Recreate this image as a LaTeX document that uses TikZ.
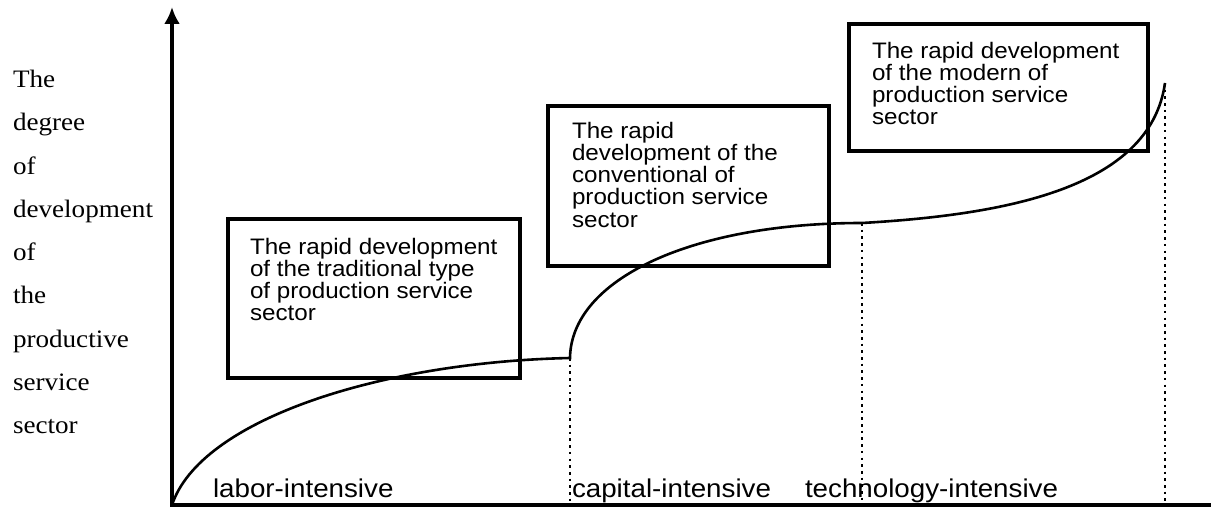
\documentclass[tikz,border=0pt]{standalone}
\usepackage{fontspec}
\setmainfont{Liberation Serif}
\newfontfamily\axisfont[FakeStretch=1.08]{Liberation Serif}
\newfontfamily\boxfont[FakeStretch=1.08]{Liberation Sans}
\usetikzlibrary{arrows.meta, positioning}

\begin{document}
\begin{tikzpicture}[x=1pt, y=-1pt,
    every node/.style={inner sep=0pt, outer sep=0pt},
    axis/.style={line width=3.4pt},
    curve/.style={line width=2.6pt},
    guide/.style={line width=2.8pt, dash pattern=on 2.6pt off 4.1pt},
    frame/.style={draw, line width=3.2pt, anchor=north west},
    boxtext/.style={anchor=north west, align=left, font=\boxfont\fontsize{22.4}{22.2}\selectfont},
    stage/.style={anchor=base west, font=\boxfont\fontsize{25.7}{26}\selectfont}
  ]
  \useasboundingbox (0,0) rectangle (1211,508);

  % axes
  \coordinate (O) at (172,505);
  \coordinate (xend) at (1211,505);
  \coordinate (ytop) at (172,7);
  \draw[axis] (O) -- (xend);
  \draw[axis, -{Latex[length=17pt, width=16pt]}] ([yshift=-1.7pt]O) -- (ytop);

  % y label
  \node[anchor=north west, align=left, font=\axisfont\fontsize{25.1}{43.3}\selectfont] (ylab) at (13,70)
    {The\\degree\\of\\development\\of\\the\\productive\\service\\sector};

  % boxes
  \node[frame, minimum width=292pt, minimum height=159pt] (trad) at (228,219) {};
  \node[frame, minimum width=281pt, minimum height=160pt] (conv) at (548,106) {};
  \node[frame, minimum width=299pt, minimum height=127pt] (mod) at (849,24) {};
  \node[boxtext] (tradtext) at (250,238) {The rapid development\\of the traditional type\\of production service\\sector};
  \node[boxtext] (convtext) at (572,122) {The rapid\\development of the\\conventional of\\production service\\sector};
  \node[boxtext] (modtext) at (872,42) {The rapid development\\of the modern of\\production service\\sector};

  % growth curve
  \coordinate (p1) at (570,358);
  \coordinate (p2) at (862,223);
  \coordinate (p3) at (1165,83);
  \draw[curve] (O) .. controls (200,420) and (380,362) .. (p1)
    .. controls (571,280) and (690,223) .. (p2)
    .. controls (1000,215) and (1150,190) .. (p3);

  % stage borders
  \draw[guide] (p1) -- (p1 |- O);
  \draw[guide] (p2) -- (p2 |- O);
  \draw[guide] (p3) -- (p3 |- O);

  % stages
  \node[stage] (labor) at (213,497) {labor-intensive};
  \node[stage] (capital) at (572,497) {capital-intensive};
  \node[stage] (tech) at (805,497) {technology-intensive};
\end{tikzpicture}
\end{document}
